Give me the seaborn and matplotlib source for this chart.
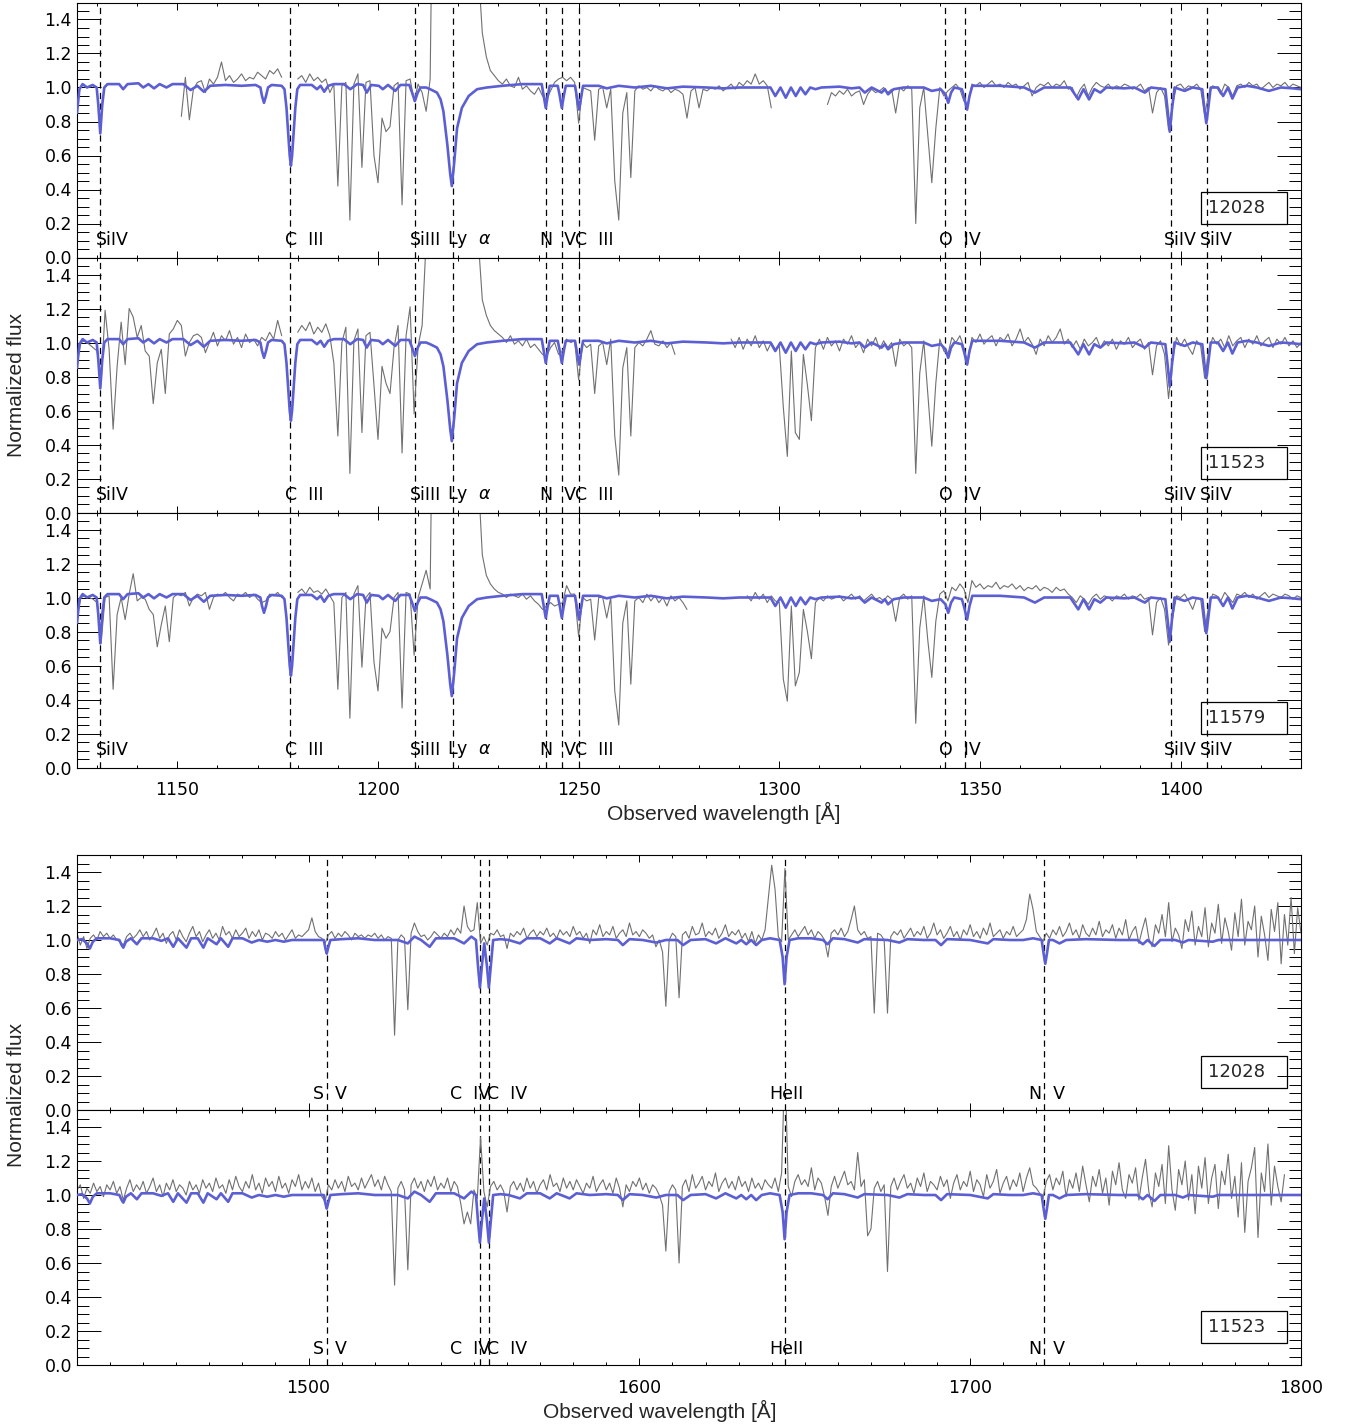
import numpy as np
import pandas as pd
import seaborn as sns
import matplotlib.pyplot as plt
from matplotlib.patches import Rectangle
from matplotlib.ticker import MultipleLocator, FormatStrFormatter

nan = np.nan

# wavelength grids of the observed spectra (1 A bins)
wave_fuv = np.arange(1125, 1431)
wave_nuv = np.arange(1430, 1801)

# normalized flux, FUV range, one value per Angstrom starting at 1125
flux_fuv_12028 = [
    nan, nan, nan, nan, nan, nan, nan, nan, nan, nan,      # 1125
    nan, nan, nan, nan, nan, nan, nan, nan, nan, nan,      # 1135
    nan, nan, nan, nan, nan, nan, 0.83, 1.06, 0.81, 0.99,  # 1145
    1.03, 1.04, 0.97, 1.05, 1.02, 1.06, 1.15, 1.04, 1.07, 1.03,  # 1155
    1.05, 1.08, 1.04, 1.06, 1.05, 1.09, 1.07, 1.05, 1.10, 1.08,  # 1165
    1.11, 1.06, nan, nan, nan, 1.05, 1.07, 1.03, 1.08, 1.04,     # 1175
    1.06, 1.03, 1.05, 0.97, 1.02, 0.42, 1.01, 1.03, 0.22, 1.02,  # 1185
    1.08, 0.53, 1.03, 1.04, 0.60, 0.44, 0.82, 0.74, 0.77, 1.01,  # 1195
    1.03, 0.31, 1.04, 1.05, 0.92, 1.02, 0.97, 0.86, 1.05, 3.00,  # 1205
    3.00, 3.00, 3.00, 3.00, 3.00, 3.00, 3.00, 3.00, 3.00, 3.00,  # 1215
    1.70, 1.32, 1.18, 1.10, 1.07, 1.04, 1.02, 1.05, 1.01, 1.00,  # 1225
    1.06, 0.99, 1.01, 0.98, 0.96, 1.00, 0.95, 0.93, 0.98, 1.03,  # 1235
    1.05, 1.06, 1.04, 1.06, 1.03, 0.79, 1.00, 0.99, 0.98, 0.69,  # 1245
    0.99, 1.00, 0.88, 0.99, 0.45, 0.22, 0.85, 0.97, 0.47, 0.98,  # 1255
    1.01, 0.99, 1.00, 0.98, 1.01, 0.99, 0.98, 1.00, 0.97, 0.99,  # 1265
    0.98, 0.96, 0.82, 0.98, 1.00, 0.88, 0.99, 0.98, 1.00, 0.99,  # 1275
    1.01, 0.98, 1.00, 1.02, 0.99, 1.03, 1.01, 1.04, 1.02, 1.08,  # 1285
    1.02, 1.04, 1.01, 0.88, nan, nan, nan, nan, nan, nan,        # 1295
    nan, nan, nan, nan, nan, nan, nan, 0.90, 0.97, 0.95,         # 1305
    0.98, 0.96, 0.99, 0.95, 0.97, 0.98, 0.90, 0.96, 0.99, 0.97,  # 1315
    0.98, 1.00, 0.97, 0.99, 0.85, 1.00, 0.98, 1.01, 0.99, 0.20,  # 1325
    0.88, 1.00, 0.72, 0.44, 0.76, 1.00, 0.95, 0.98, 1.00, 1.02,  # 1335
    0.99, 0.92, 0.90, 1.02, 1.01, 1.03, 1.00, 1.02, 1.04, 1.01,  # 1345
    1.02, 1.00, 1.03, 1.01, 1.02, 0.99, 1.01, 1.03, 0.95, 1.00,  # 1355
    1.02, 1.01, 1.03, 1.00, 1.02, 1.01, 1.04, 0.99, 1.00, 0.94,  # 1365
    0.99, 1.02, 0.95, 1.00, 1.03, 1.01, 1.00, 1.02, 0.99, 1.01,  # 1375
    1.00, 1.02, 1.01, 0.99, 1.00, 1.02, 0.98, 1.00, 0.85, 0.97,  # 1385
    1.00, 0.95, 0.75, 0.90, 1.01, 1.02, 0.99, 1.01, 1.00, 1.02,  # 1395
    0.99, 0.84, 0.96, 1.01, 1.00, 0.96, 1.02, 1.00, 0.95, 1.01,  # 1405
    1.02, 1.00, 1.03, 1.01, 1.02, 0.99, 1.01, 1.03, 1.00, 1.02,  # 1415
    1.01, 1.03, 1.00, 1.02, 1.01, 1.00,                          # 1425
]

flux_fuv_11523 = [
    0.88, 1.00, 1.01, 0.99, 0.97, 0.95, 0.76, 1.19, 0.96, 0.49,  # 1125
    0.86, 1.12, 0.87, 1.20, 1.15, 1.03, 1.10, 0.95, 0.92, 0.64,  # 1135
    0.88, 0.96, 0.70, 1.05, 1.08, 1.13, 1.10, 0.92, 1.00, 1.04,  # 1145
    1.05, 1.03, 0.94, 1.00, 1.06, 0.98, 1.04, 1.01, 1.07, 0.99,  # 1155
    1.03, 0.97, 1.05, 1.00, 1.02, 0.98, 1.03, 1.01, 1.06, 1.02,  # 1165
    1.13, 1.04, nan, nan, nan, 1.06, 1.10, 1.07, 1.12, 1.05,     # 1175
    1.09, 1.06, 1.11, 1.04, 0.88, 0.45, 1.00, 1.09, 0.23, 1.01,  # 1185
    1.08, 0.47, 1.04, 1.06, 0.75, 0.43, 0.86, 0.76, 0.70, 0.97,  # 1195
    1.10, 0.35, 1.04, 1.21, 0.58, 0.98, 1.10, 1.60, 3.00, 3.00,  # 1205
    3.00, 3.00, 3.00, 3.00, 3.00, 3.00, 3.00, 3.00, 3.00, 3.00,  # 1215
    1.60, 1.25, 1.16, 1.10, 1.07, 1.05, 1.03, 1.00, 1.04, 0.99,  # 1225
    1.01, 0.98, 1.02, 0.97, 0.99, 0.96, 0.93, 0.92, 0.97, 1.00,  # 1235
    0.93, 0.95, 1.02, 1.00, 1.01, 0.78, 1.00, 0.97, 0.99, 0.70,  # 1245
    0.98, 1.00, 0.87, 1.02, 0.45, 0.22, 0.85, 0.97, 0.45, 0.97,  # 1255
    1.00, 0.98, 1.02, 1.07, 0.99, 0.98, 1.01, 0.97, 1.00, 0.93,  # 1265
    nan, nan, nan, nan, nan, nan, nan, nan, nan, nan,            # 1275
    nan, nan, nan, 1.02, 0.97, 1.03, 0.96, 1.02, 0.98, 1.04,     # 1285
    0.97, 1.01, 0.95, 1.00, 0.96, 0.98, 0.62, 0.33, 0.95, 0.47,  # 1295
    0.43, 0.93, 0.75, 0.54, 0.97, 1.02, 0.96, 1.03, 0.98, 1.01,  # 1305
    0.95, 1.02, 0.99, 1.04, 0.97, 1.00, 0.94, 1.02, 0.98, 1.03,  # 1315
    0.96, 1.01, 0.97, 1.00, 0.86, 1.02, 0.98, 1.00, 0.97, 0.23,  # 1325
    0.82, 1.01, 0.70, 0.39, 0.76, 1.02, 0.95, 0.93, 1.03, 1.00,  # 1335
    1.04, 0.97, 0.88, 1.03, 1.00, 1.05, 0.99, 1.02, 1.04, 0.98,  # 1345
    1.03, 1.01, 1.05, 0.98, 1.02, 1.08, 1.00, 1.03, 0.99, 0.93,  # 1355
    1.02, 0.98, 1.04, 1.00, 1.03, 1.08, 0.99, 1.02, 0.97, 1.01,  # 1365
    0.96, 1.02, 0.98, 1.00, 1.03, 0.97, 1.01, 0.98, 1.02, 0.96,  # 1375
    1.01, 0.99, 1.03, 0.97, 1.00, 1.02, 0.96, 1.00, 0.81, 0.98,  # 1385
    1.01, 0.93, 0.67, 0.90, 1.03, 0.98, 1.02, 0.97, 0.93, 1.01,  # 1395
    0.98, 0.79, 0.95, 1.03, 0.99, 1.02, 0.97, 1.04, 0.98, 1.01,  # 1405
    1.03, 0.97, 1.02, 0.99, 1.04, 0.98, 1.01, 1.03, 0.97, 1.02,  # 1415
    0.99, 1.03, 0.98, 1.01, 0.97, 1.00,                          # 1425
]

flux_fuv_11579 = [
    0.88, 1.00, 1.01, 1.00, 0.99, 0.97, 0.73, 1.00, 1.01, 0.46,  # 1125
    0.90, 1.00, 0.87, 1.02, 1.14, 0.98, 1.00, 0.99, 0.93, 0.90,  # 1135
    0.71, 0.84, 0.95, 0.74, 1.00, 1.02, 1.01, 1.03, 0.95, 1.00,  # 1145
    1.02, 1.01, 1.03, 0.93, 1.00, 1.02, 1.01, 1.03, 1.00, 0.98,  # 1155
    1.02, 1.01, 1.03, 1.00, 1.02, 0.99, 0.97, 0.98, 1.02, 1.01,  # 1165
    1.03, 1.00, nan, nan, nan, 1.03, 1.05, 1.02, 1.06, 1.03,     # 1175
    1.04, 1.02, 1.05, 1.01, 0.97, 0.46, 1.00, 1.03, 0.29, 1.02,  # 1185
    1.07, 0.59, 1.00, 1.03, 0.62, 0.45, 0.82, 0.76, 0.80, 1.00,  # 1195
    1.03, 0.35, 1.03, 1.02, 0.66, 1.00, 1.08, 1.16, 1.05, 3.00,  # 1205
    3.00, 3.00, 3.00, 3.00, 3.00, 3.00, 3.00, 3.00, 3.00, 3.00,  # 1215
    1.70, 1.25, 1.13, 1.08, 1.05, 1.03, 1.02, 1.00, 1.02, 1.01,  # 1225
    1.00, 1.02, 0.99, 1.01, 0.98, 0.96, 0.93, 0.95, 0.97, 0.95,  # 1235
    0.96, 0.97, 1.07, 1.02, 1.02, 0.77, 1.00, 0.98, 0.99, 0.75,  # 1245
    1.00, 1.00, 0.88, 1.00, 0.45, 0.25, 0.85, 0.98, 0.49, 0.98,  # 1255
    1.00, 0.97, 1.02, 0.98, 1.01, 0.97, 1.00, 0.95, 1.01, 0.98,  # 1265
    1.00, 0.97, 0.93, nan, nan, nan, nan, nan, nan, nan,         # 1275
    nan, nan, nan, nan, nan, nan, nan, 1.01, 0.98, 1.03,         # 1285
    0.99, 1.02, 0.97, 1.01, 0.98, 0.97, 0.52, 0.39, 0.95, 0.48,  # 1295
    0.56, 0.93, 0.80, 0.64, 0.97, 1.00, 0.98, 1.01, 0.99, 1.00,  # 1305
    1.01, 0.98, 1.00, 1.02, 0.99, 1.01, 0.98, 1.00, 1.02, 0.99,  # 1315
    1.00, 0.98, 1.01, 0.99, 0.86, 1.00, 1.02, 0.99, 1.01, 0.26,  # 1325
    0.82, 1.01, 0.75, 0.53, 0.86, 1.02, 1.04, 0.98, 1.06, 1.04,  # 1335
    1.08, 1.05, 0.97, 1.10, 1.06, 1.08, 1.05, 1.07, 1.06, 1.09,  # 1345
    1.05, 1.07, 1.06, 1.08, 1.05, 1.07, 1.04, 1.06, 1.05, 1.07,  # 1355
    1.04, 1.06, 1.05, 1.03, 1.06, 1.04, 1.05, 1.02, 1.00, 0.97,  # 1365
    1.01, 0.99, 0.96, 1.00, 1.02, 0.99, 1.01, 1.00, 0.98, 1.01,  # 1375
    1.00, 1.02, 0.99, 1.01, 1.00, 1.02, 0.99, 1.00, 0.78, 0.97,  # 1385
    1.00, 0.93, 0.72, 0.88, 1.01, 1.00, 1.02, 0.98, 0.93, 1.00,  # 1395
    0.99, 0.80, 0.95, 1.02, 1.01, 0.98, 1.03, 1.00, 0.97, 1.02,  # 1405
    1.01, 1.03, 1.00, 1.02, 0.99, 1.01, 1.03, 1.00, 1.02, 1.01,  # 1415
    1.00, 1.02, 1.01, 0.99, 1.01, 1.00,                          # 1425
]

# normalized flux, NUV range, one value per Angstrom starting at 1430
flux_nuv_12028 = [
    1.04, 0.97, 1.02, 0.95, 1.01, 1.03, 1.00, 1.05, 1.02, 1.04,  # 1430
    1.01, 1.03, 1.00, 0.99, 0.97, 1.02, 1.04, 1.01, 1.03, 1.06,  # 1440
    1.02, 1.05, 1.00, 1.03, 1.07, 1.01, 1.04, 0.98, 1.03, 1.05,  # 1450
    1.00, 1.06, 1.02, 0.99, 1.04, 1.08, 1.02, 1.05, 0.99, 1.03,  # 1460
    1.06, 1.01, 1.04, 1.00, 1.08, 1.03, 1.05, 1.01, 1.06, 1.02,  # 1470
    1.04, 1.07, 1.01, 1.05, 1.02, 1.06, 1.00, 1.04, 1.03, 1.01,  # 1480
    1.05, 1.02, 1.04, 1.00, 1.03, 1.06, 1.01, 1.03, 1.02, 1.04,  # 1490
    1.06, 1.13, 1.05, 1.02, 1.01, 0.98, 1.03, 1.05, 1.01, 1.04,  # 1500
    1.02, 1.05, 1.03, 1.00, 1.04, 1.02, 1.03, 1.01, 1.03, 1.02,  # 1510
    1.04, 1.01, 1.03, 1.00, 1.02, 1.01, 0.44, 1.00, 1.03, 1.01,  # 1520
    0.59, 1.04, 1.10, 1.05, 1.02, 1.03, 1.00, 1.02, 1.05, 1.03,  # 1530
    1.01, 1.04, 1.02, 1.06, 1.03, 1.07, 1.04, 1.20, 1.08, 1.05,  # 1540
    1.06, 1.22, 0.98, 1.02, 0.97, 1.04, 1.03, 1.06, 1.02, 1.03,  # 1550
    0.95, 1.04, 1.02, 1.05, 1.03, 1.07, 1.01, 1.04, 1.06, 1.02,  # 1560
    1.05, 1.03, 1.07, 1.02, 1.04, 1.01, 1.06, 1.03, 1.05, 1.02,  # 1570
    1.08, 1.03, 1.05, 1.01, 1.04, 0.98, 1.06, 1.03, 1.09, 1.02,  # 1580
    1.05, 1.03, 1.08, 1.01, 1.04, 1.06, 1.02, 1.10, 1.03, 1.05,  # 1590
    1.02, 1.06, 1.04, 1.01, 1.03, 0.96, 1.00, 0.93, 0.61, 1.00,  # 1600
    1.04, 1.02, 0.66, 1.03, 1.05, 1.01, 1.08, 1.03, 1.04, 1.10,  # 1610
    1.02, 1.05, 1.03, 1.07, 1.01, 1.04, 1.09, 1.02, 1.05, 1.03,  # 1620
    1.06, 1.01, 1.04, 0.99, 1.05, 0.98, 1.03, 1.00, 1.06, 1.25,  # 1630
    1.44, 1.30, 1.02, 0.99, 1.42, 1.00, 1.03, 1.06, 1.02, 1.05,  # 1640
    1.08, 1.03, 1.06, 1.01, 1.05, 1.03, 1.00, 0.90, 1.04, 1.06,  # 1650
    1.03, 1.07, 1.02, 1.05, 1.12, 1.20, 1.06, 1.03, 1.05, 1.01,  # 1660
    1.02, 0.57, 1.04, 1.03, 1.00, 0.57, 1.02, 1.05, 1.03, 1.06,  # 1670
    1.01, 1.04, 1.07, 1.02, 1.05, 1.03, 1.08, 1.01, 1.04, 1.10,  # 1680
    1.03, 1.06, 1.01, 1.04, 1.08, 1.02, 1.05, 1.00, 1.06, 1.03,  # 1690
    1.09, 1.02, 1.05, 1.01, 1.07, 1.03, 1.10, 1.02, 1.04, 1.06,  # 1700
    1.01, 1.05, 1.03, 1.08, 1.02, 1.04, 1.06, 1.12, 1.27, 1.18,  # 1710
    1.05, 1.02, 0.99, 1.04, 1.01, 1.06, 1.03, 1.08, 1.02, 1.05,  # 1720
    1.10, 1.03, 1.06, 1.01, 1.09, 1.04, 1.02, 1.07, 1.03, 1.11,  # 1730
    1.02, 1.06, 1.04, 1.09, 1.01, 1.07, 1.03, 1.12, 1.00, 1.05,  # 1740
    1.08, 0.98, 1.06, 1.13, 1.01, 0.96, 1.09, 1.04, 1.15, 1.02,  # 1750
    1.22, 0.99, 1.07, 1.03, 0.95, 1.12, 1.05, 1.17, 0.97, 1.08,  # 1760
    1.02, 1.19, 0.96, 1.10, 1.04, 1.21, 0.98, 1.13, 1.05, 0.94,  # 1770
    1.16, 1.02, 1.24, 0.97, 1.11, 1.06, 1.20, 0.90, 1.14, 1.03,  # 1780
    0.88, 1.18, 1.05, 1.22, 0.86, 1.15, 0.97, 1.25, 0.92, 1.19,  # 1790
    1.04,                                                        # 1800
]

flux_nuv_11523 = [
    1.03, 1.06, 0.98, 1.04, 1.01, 1.07, 1.02, 1.05, 0.99, 1.06,  # 1430
    1.03, 1.08, 1.01, 1.05, 0.97, 1.04, 1.09, 1.02, 1.06, 1.03,  # 1440
    1.08, 1.01, 1.05, 1.10, 1.02, 1.06, 0.99, 1.07, 1.03, 1.09,  # 1450
    1.02, 1.06, 1.04, 1.00, 1.08, 1.03, 1.06, 1.01, 1.09, 1.04,  # 1460
    1.07, 1.02, 1.10, 1.04, 1.06, 1.01, 1.09, 1.03, 1.11, 1.05,  # 1470
    1.02, 1.08, 1.04, 1.12, 1.03, 1.07, 1.01, 1.10, 1.05, 1.08,  # 1480
    1.02, 1.11, 1.04, 1.07, 1.01, 1.09, 1.05, 1.12, 1.03, 1.08,  # 1490
    1.04, 1.10, 1.02, 1.07, 0.99, 0.96, 1.06, 1.03, 1.09, 1.04,  # 1500
    1.08, 1.02, 1.11, 1.05, 1.07, 1.03, 1.10, 1.04, 1.08, 1.12,  # 1510
    1.05, 1.09, 1.03, 1.11, 1.06, 1.02, 0.47, 1.04, 1.08, 1.03,  # 1520
    0.56, 1.06, 1.10, 1.04, 1.08, 1.02, 1.09, 1.05, 1.11, 1.03,  # 1530
    1.07, 1.04, 1.10, 1.02, 1.08, 1.05, 0.95, 0.83, 0.90, 0.83,  # 1540
    1.03, 0.98, 1.34, 1.02, 0.93, 1.05, 1.08, 1.03, 1.06, 1.02,  # 1550
    0.90, 1.05, 1.08, 1.03, 1.07, 1.02, 1.10, 1.04, 1.08, 1.01,  # 1560
    1.06, 1.09, 1.03, 1.12, 1.05, 1.07, 1.02, 1.10, 1.04, 1.08,  # 1570
    1.03, 1.09, 1.05, 1.01, 1.07, 1.04, 1.11, 1.02, 1.06, 1.09,  # 1580
    1.03, 1.07, 1.01, 1.10, 1.04, 0.93, 1.06, 1.02, 1.08, 1.05,  # 1590
    1.10, 1.03, 1.07, 1.01, 1.06, 1.04, 1.00, 0.94, 0.67, 1.02,  # 1600
    1.06, 1.03, 0.60, 1.05, 1.09, 1.02, 1.12, 1.04, 1.07, 1.11,  # 1610
    1.03, 1.08, 1.05, 1.13, 1.02, 1.07, 1.10, 1.04, 1.08, 1.03,  # 1620
    1.11, 1.05, 1.08, 1.02, 1.10, 1.04, 1.07, 1.03, 1.09, 1.06,  # 1630
    1.04, 1.10, 1.02, 1.13, 1.80, 1.05, 0.99, 1.08, 1.12, 1.06,  # 1640
    1.09, 1.05, 1.16, 1.03, 1.10, 1.07, 0.99, 0.88, 1.05, 1.11,  # 1650
    1.04, 1.09, 1.14, 1.06, 1.08, 1.03, 1.25, 1.05, 1.09, 0.76,  # 1660
    0.80, 1.04, 1.08, 1.02, 1.06, 0.55, 1.05, 1.10, 1.03, 1.08,  # 1670
    1.12, 1.04, 1.07, 1.01, 1.10, 1.05, 1.13, 1.02, 1.08, 1.06,  # 1680
    1.03, 1.11, 1.05, 1.09, 0.98, 1.07, 1.12, 1.03, 1.08, 1.05,  # 1690
    1.14, 1.02, 1.09, 1.06, 0.99, 1.12, 1.04, 1.08, 1.15, 1.01,  # 1700
    1.07, 1.11, 1.03, 1.09, 1.05, 1.13, 1.02, 1.10, 1.16, 1.06,  # 1710
    1.04, 1.01, 0.98, 1.08, 1.12, 1.03, 1.10, 1.06, 1.14, 0.99,  # 1720
    1.09, 1.04, 1.13, 1.02, 1.17, 1.06, 0.96, 1.11, 1.05, 1.15,  # 1730
    1.01, 1.10, 0.94, 1.14, 1.06, 1.19, 1.03, 0.98, 1.12, 1.07,  # 1740
    1.16, 0.97, 1.10, 1.21, 1.02, 0.93, 1.13, 1.05, 1.18, 0.95,  # 1750
    1.29, 1.03, 0.91, 1.15, 1.06, 1.20, 0.97, 1.12, 0.89, 1.17,  # 1760
    1.04, 1.22, 0.95, 1.10, 1.18, 0.92, 1.14, 1.06, 1.24, 0.98,  # 1770
    1.11, 0.87, 1.19, 0.78, 1.08, 1.16, 1.28, 0.75, 1.13, 1.02,  # 1780
    1.30, 0.94, 1.17, 1.05, 0.96, 1.12, nan, nan, nan, nan,      # 1790
    nan,                                                         # 1800
]

# model spectra (wavelength, normalized flux) nodes
model_fuv = [
    (1125.0, 0.85), (1125.6, 0.99), (1126.4, 1.02), (1127.5, 1.00), (1128.9, 1.015), (1129.9, 1.00),
    (1130.3, 0.90), (1130.8, 0.73), (1131.3, 0.90), (1131.8, 1.00), (1132.6, 1.02),
    (1135.5, 1.02), (1136.5, 0.99), (1137.6, 1.02), (1140.3, 1.025), (1141.5, 1.00), (1142.8, 1.02),
    (1144.2, 0.995), (1145.6, 1.02), (1147.3, 1.00), (1148.8, 1.02), (1151.5, 1.02), (1153.3, 0.985),
    (1155.0, 1.01), (1156.6, 0.975), (1158.2, 1.01), (1162.0, 1.015), (1166.0, 1.01), (1169.5, 1.015),
    (1170.7, 1.00), (1171.1, 0.95), (1171.6, 0.91), (1172.1, 0.95), (1172.6, 1.00), (1173.5, 1.015),
    (1176.0, 1.01), (1176.7, 0.99), (1177.2, 0.88), (1177.6, 0.74), (1178.0, 0.60), (1178.3, 0.54),
    (1178.6, 0.60), (1179.0, 0.74), (1179.4, 0.88), (1179.9, 0.99), (1180.6, 1.015),
    (1183.5, 1.015), (1184.8, 0.99), (1185.7, 1.01), (1186.6, 0.975), (1187.6, 1.01), (1189.0, 1.02),
    (1191.5, 1.02), (1193.1, 0.99), (1194.8, 1.02), (1196.3, 1.015), (1197.2, 0.97), (1198.3, 1.015),
    (1200.2, 1.01), (1201.2, 0.99), (1202.5, 1.015), (1204.3, 0.98), (1205.6, 1.015), (1207.8, 1.015),
    (1208.5, 0.97), (1209.2, 0.92), (1209.9, 0.97), (1210.6, 1.00), (1212.0, 1.00), (1213.0, 0.99),
    (1214.7, 0.97), (1215.6, 0.93), (1216.3, 0.86), (1217.3, 0.66), (1218.0, 0.49), (1218.4, 0.42),
    (1219.0, 0.56), (1219.7, 0.76), (1220.9, 0.88), (1222.6, 0.95), (1224.7, 0.99), (1227.1, 1.00),
    (1231.0, 1.01), (1236.0, 1.02), (1240.8, 1.02),
    (1241.3, 0.95), (1241.8, 0.88), (1242.3, 0.95), (1242.8, 1.01), (1244.8, 1.01),
    (1245.3, 0.95), (1245.8, 0.88), (1246.3, 0.95), (1246.8, 1.01), (1249.1, 1.01),
    (1249.6, 0.94), (1250.1, 0.87), (1250.6, 0.94), (1251.1, 1.01),
    (1255.0, 1.01), (1257.0, 0.995), (1260.0, 1.01), (1264.0, 1.00), (1268.0, 1.01), (1272.0, 0.995),
    (1276.0, 1.005), (1282.0, 1.00), (1286.0, 0.995), (1290.0, 1.00), (1297.8, 1.00),
    (1299.0, 0.95), (1300.3, 1.00), (1301.6, 0.94), (1302.9, 1.00), (1304.1, 0.95), (1305.3, 1.00),
    (1306.5, 0.96), (1307.7, 1.00), (1309.0, 0.99), (1310.5, 1.00), (1315.0, 1.005), (1318.0, 0.995),
    (1320.0, 1.00), (1321.3, 0.97), (1323.0, 1.00), (1325.5, 0.97), (1326.3, 0.99), (1327.1, 0.96),
    (1328.5, 0.99), (1331.0, 1.00), (1336.0, 1.00), (1338.0, 0.98), (1340.2, 0.99),
    (1341.4, 0.96), (1342.1, 0.91), (1342.8, 0.97), (1343.6, 1.00), (1345.5, 0.99),
    (1346.1, 0.94), (1346.8, 0.87), (1347.4, 0.95), (1348.1, 1.01), (1355.0, 1.01), (1361.0, 1.00),
    (1363.7, 0.97), (1366.0, 1.00), (1372.5, 1.00), (1374.5, 0.93), (1375.8, 0.99), (1377.2, 0.93),
    (1378.5, 0.99), (1380.0, 0.97), (1381.5, 1.00), (1386.0, 0.995), (1388.5, 1.00), (1391.1, 0.97),
    (1392.6, 1.00), (1396.2, 0.99), (1396.8, 0.86), (1397.3, 0.74), (1397.8, 0.86), (1398.5, 1.00),
    (1401.0, 0.98), (1403.0, 1.00), (1405.4, 0.99), (1405.9, 0.88), (1406.4, 0.79), (1406.9, 0.88),
    (1407.5, 1.00), (1409.3, 1.00), (1410.6, 0.95), (1411.8, 1.00), (1412.9, 0.935), (1414.2, 1.00),
    (1416.5, 1.01), (1419.0, 1.00), (1422.0, 0.98), (1425.0, 1.00), (1428.0, 0.995), (1430.0, 0.99),
]

model_nuv = [
    (1430.0, 1.00), (1431.5, 1.005), (1433.0, 0.98), (1433.9, 0.95), (1434.8, 0.99), (1436.0, 1.01),
    (1440.0, 1.01), (1442.8, 1.00), (1443.5, 0.97), (1444.0, 0.955), (1444.8, 0.99), (1446.3, 1.01),
    (1448.1, 0.975), (1449.5, 1.01), (1453.0, 1.01), (1455.5, 0.995), (1457.5, 1.01), (1459.1, 0.96),
    (1460.5, 1.01), (1463.1, 0.955), (1464.5, 1.01), (1466.5, 1.01), (1468.2, 0.955), (1469.5, 1.01),
    (1472.2, 0.975), (1473.5, 1.01), (1475.7, 0.96), (1477.0, 1.01), (1480.0, 1.01), (1482.8, 0.985),
    (1485.0, 1.00), (1487.5, 0.99), (1490.0, 1.00), (1492.5, 0.99), (1495.0, 1.00), (1500.0, 1.00),
    (1504.6, 1.00), (1505.1, 0.95), (1505.5, 0.92), (1506.0, 0.96), (1506.6, 1.00), (1510.0, 1.005),
    (1515.0, 1.01), (1520.0, 1.00), (1527.0, 1.00), (1530.0, 0.98), (1532.0, 1.02), (1534.0, 1.00),
    (1536.6, 0.96), (1538.5, 1.01), (1544.0, 1.01), (1547.0, 0.98), (1549.2, 1.02), (1550.6, 1.00),
    (1551.2, 0.85), (1551.8, 0.72), (1552.4, 0.85), (1553.1, 0.98), (1553.9, 0.85), (1554.5, 0.72),
    (1555.1, 0.85), (1555.8, 1.00), (1558.0, 1.005), (1560.5, 1.00), (1563.9, 0.98), (1566.0, 1.01),
    (1570.0, 1.01), (1572.9, 0.98), (1575.0, 1.01), (1578.9, 0.98), (1581.0, 1.01), (1585.0, 1.00),
    (1590.0, 1.005), (1593.5, 1.00), (1595.0, 0.97), (1597.0, 1.005), (1601.0, 1.00), (1605.1, 0.985),
    (1608.0, 1.00), (1611.5, 1.00), (1613.2, 0.97), (1615.5, 1.00), (1620.0, 1.005), (1623.2, 0.98),
    (1626.0, 1.01), (1629.3, 0.98), (1630.8, 1.00), (1632.3, 0.975), (1633.8, 1.00), (1635.3, 0.97),
    (1637.0, 1.00), (1639.5, 1.01), (1642.4, 1.00), (1643.3, 0.90), (1643.9, 0.74), (1644.5, 0.90),
    (1645.4, 1.00), (1648.0, 1.01), (1652.0, 1.01), (1655.5, 1.00), (1656.9, 0.975), (1658.5, 1.01),
    (1662.0, 1.005), (1666.0, 0.985), (1668.0, 1.005), (1675.0, 1.00), (1678.6, 0.985), (1681.0, 1.005),
    (1686.0, 1.00), (1689.5, 1.00), (1691.2, 0.97), (1693.0, 1.005), (1700.0, 1.00), (1705.3, 0.98),
    (1707.0, 1.005), (1712.0, 1.00), (1716.0, 1.00), (1719.0, 1.01), (1721.6, 1.00), (1722.2, 0.92),
    (1722.7, 0.86), (1723.2, 0.92), (1723.8, 1.00), (1725.0, 1.00), (1727.0, 0.98), (1729.0, 1.00),
    (1735.0, 1.005), (1745.0, 1.00), (1750.5, 1.00), (1752.2, 0.975), (1753.6, 1.00), (1755.7, 0.965),
    (1757.5, 1.00), (1762.0, 1.00), (1764.3, 0.985), (1766.0, 1.00), (1773.3, 0.99), (1775.0, 1.00),
    (1800.0, 1.00),
]

# line identifications (observed wavelength of the dashed markers)
lines_fuv = [1130.7, 1178.1, 1209.2, 1218.7, 1241.8, 1245.8, 1250.1, 1341.2, 1346.2, 1397.5, 1406.5]
labels_fuv = ["SiIV", "C  III", "SiIII", "Ly  $\\alpha$", "N  V", "C  III", "O  IV", "SiIV", "SiIV"]
lines_nuv = [1505.5, 1551.8, 1554.5, 1643.9, 1722.4]
labels_nuv = ["S  V", "C  IV", "C  IV", "HeII", "N  V"]

# where the label text starts (data x)
label_x_fuv = [1129.7, 1176.8, 1208.0, 1217.2, 1240.4, 1249.1, 1339.8, 1395.8, 1404.8]
label_x_nuv = [1501.3, 1542.7, 1553.9, 1639.4, 1717.9]

GRAY = "#707070"
BLUE = "#5c5fd3"

sns.set_theme(style="ticks")
plt.rcParams["font.family"] = ["DejaVu Sans"]
plt.rcParams["axes.edgecolor"] = "black"
plt.rcParams["axes.linewidth"] = 0.8


def draw_panel(ax, wave, flux, model, lines, labels, label_x, label_y, name, box_y0,
               xlim, major, show_xlabels):
    n = min(len(wave), len(flux))
    df = pd.DataFrame({"wave": wave[:n], "flux": np.asarray(flux[:n], dtype=float)})
    ok = df["flux"].notna()
    seg_id = (~ok).cumsum()
    for _, part in df[ok].groupby(seg_id[ok]):
        sns.lineplot(data=part, x="wave", y="flux", ax=ax, color=GRAY, lw=0.8,
                     estimator=None, sort=False, zorder=2)

    mdf = pd.DataFrame(model, columns=["wave", "flux"])
    sns.lineplot(data=mdf, x="wave", y="flux", ax=ax, color=BLUE, lw=1.9,
                 estimator=None, sort=False, zorder=3)

    for wl in lines:
        ax.axvline(wl, color="black", lw=0.9, ls=(0, (5, 3.5)), zorder=1)
    for lab, lx in zip(labels, label_x):
        ax.text(lx, label_y, lab, fontsize=12.5, ha="left", va="center", color="black", zorder=4)

    ax.add_patch(Rectangle((0.9183, box_y0), 0.0703, 0.126, transform=ax.transAxes,
                           fill=False, edgecolor="black", lw=0.9, zorder=5))
    ax.text(0.924, box_y0 + 0.063, name, transform=ax.transAxes, fontsize=13,
            ha="left", va="center", zorder=6)

    ax.set_xlim(xlim)
    ax.set_ylim(0, 1.5)
    ax.set_xlabel("")
    ax.set_ylabel("")
    ax.xaxis.set_major_locator(MultipleLocator(major))
    ax.xaxis.set_minor_locator(MultipleLocator(10))
    ax.yaxis.set_major_locator(MultipleLocator(0.2))
    ax.yaxis.set_minor_locator(MultipleLocator(0.05))
    ax.yaxis.set_major_formatter(FormatStrFormatter("%.1f"))
    ax.tick_params(which="both", direction="in", top=True, right=True, width=0.7, colors="black")
    ax.tick_params(axis="y", which="major", length=17, labelsize=12.5, pad=3.6)
    ax.tick_params(axis="y", which="minor", length=8.5)
    ax.tick_params(axis="x", which="major", length=5, labelsize=12.5, pad=10)
    ax.tick_params(axis="x", which="minor", length=2.5)
    ax.tick_params(axis="x", labelbottom=show_xlabels)
    for sp in ax.spines.values():
        sp.set_visible(True)
        sp.set_color("black")


W, H = 1349, 1427
fig = plt.figure(figsize=(W / 100, H / 100), dpi=100)
left = 77 / W
width = 1224 / W
ph = 255 / H

top_panels = [
    (flux_fuv_12028, "12028"),
    (flux_fuv_11523, "11523"),
    (flux_fuv_11579, "11579"),
]
for i, (flux, name) in enumerate(top_panels):
    bottom = 1 - (2.5 + 255 * (i + 1)) / H
    ax = fig.add_axes([left, bottom, width, ph])
    draw_panel(ax, wave_fuv, flux, model_fuv, lines_fuv, labels_fuv, label_x_fuv, 0.105,
               name, 0.132, (1125, 1430), 50, i == 2)

bottom_panels = [
    (flux_nuv_12028, "12028"),
    (flux_nuv_11523, "11523"),
]
for i, (flux, name) in enumerate(bottom_panels):
    bottom = 1 - (855 + 255 * (i + 1)) / H
    ax = fig.add_axes([left, bottom, width, ph])
    draw_panel(ax, wave_nuv, flux, model_nuv, lines_nuv, labels_nuv, label_x_nuv, 0.094,
               name, 0.086, (1430, 1800), 100, i == 1)

label_font = dict(family=["Liberation Sans", "DejaVu Sans"], fontsize=15)
fig.text(17 / W, 1 - 385 / H, "Normalized flux", rotation=90, ha="center", va="center", **label_font)
fig.text(17 / W, 1 - 1095 / H, "Normalized flux", rotation=90, ha="center", va="center", **label_font)
fig.text(724 / W, 1 - 813 / H, "Observed wavelength [Å]", ha="center", va="center", **label_font)
fig.text(660 / W, 1 - 1411 / H, "Observed wavelength [Å]", ha="center", va="center", **label_font)

fig.savefig("out.png", dpi=100)
